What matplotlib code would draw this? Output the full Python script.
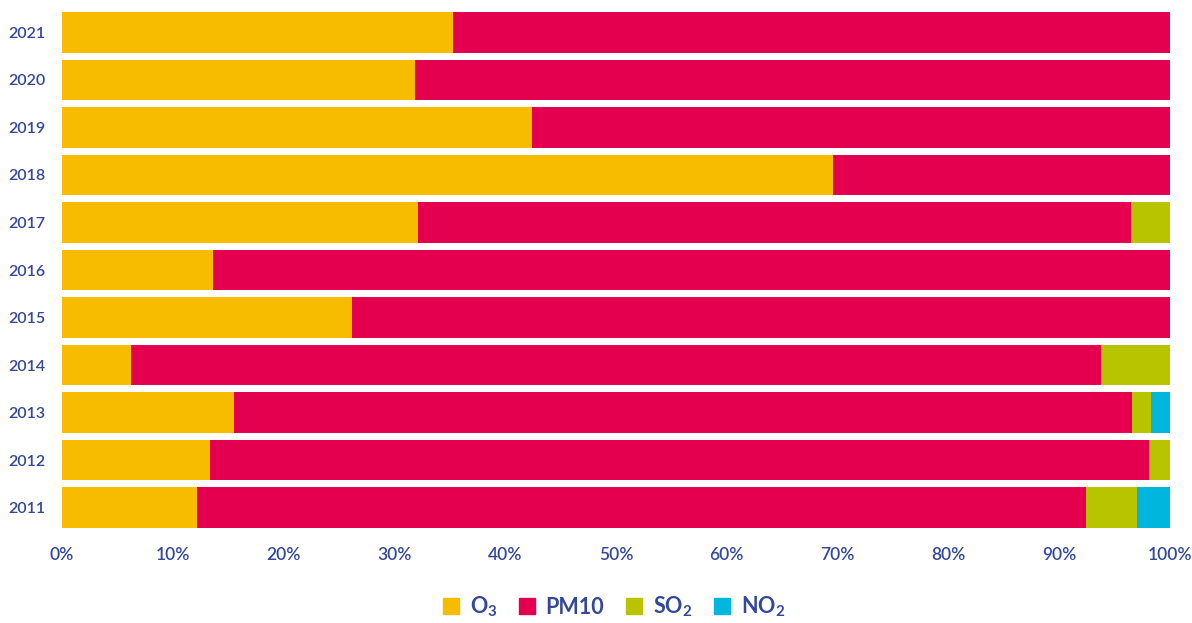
import matplotlib
matplotlib.use('Agg')
import matplotlib.pyplot as plt
from matplotlib.patches import Patch
import numpy as np

years = ['2011', '2012', '2013', '2014', '2015', '2016', '2017', '2018', '2019', '2020', '2021']
o3 = [12.2, 13.4, 15.5, 6.2, 26.2, 13.6, 32.1, 69.6, 42.4, 31.9, 35.3]
pm10 = [80.2, 84.7, 81.1, 87.6, 73.8, 86.4, 64.4, 30.4, 57.6, 68.1, 64.7]
so2 = [4.6, 1.9, 1.7, 6.2, 0, 0, 3.5, 0, 0, 0, 0]
no2 = [3.0, 0, 1.7, 0, 0, 0, 0, 0, 0, 0, 0]

series = [('O$_\\mathregular{3}$', o3, '#F7BC00'),
          ('PM10', pm10, '#E5004F'),
          ('SO$_\\mathregular{2}$', so2, '#B8C400'),
          ('NO$_\\mathregular{2}$', no2, '#00B6DC')]

txt = '#34489A'
plt.rcParams['font.family'] = ['Lato', 'DejaVu Sans']

fig = plt.figure(figsize=(11.92, 6.23), dpi=100)
ax = fig.add_axes([62 / 1192, 1 - 528 / 623, (1170 - 62) / 1192, (528 - 12) / 623])

y = np.arange(len(years))
left = np.zeros(len(years))
for name, vals, col in series:
    vals = np.array(vals)
    ax.barh(y, vals, left=left, height=0.86, color=col, label=name)
    left += vals

ax.set_xlim(0, 100)
ax.set_ylim(-0.43, 10.43)
ax.set_yticks(y)
ax.set_yticklabels(years)
ax.set_xticks(range(0, 101, 10))
ax.set_xticklabels([f'{v}%' for v in range(0, 101, 10)])
ax.tick_params(length=0, colors=txt, labelsize=12.5)
ax.tick_params(axis='x', pad=14)
ax.tick_params(axis='y', pad=12, labelsize=11.5)
for lab in ax.get_xticklabels() + ax.get_yticklabels():
    lab.set_fontweight('semibold')
for s in ax.spines.values():
    s.set_visible(False)

handles = [Patch(color=c, label=n) for n, _, c in series]
leg = fig.legend(handles=handles, loc='center', bbox_to_anchor=(0.515, 0.026), ncol=4,
                 frameon=False, prop={'size': 15.5, 'weight': 'bold'},
                 handlelength=0.75, handleheight=0.75,
                 handletextpad=0.5, columnspacing=1.0)
for t in leg.get_texts():
    t.set_color(txt)

fig.savefig('out.png', dpi=100)
